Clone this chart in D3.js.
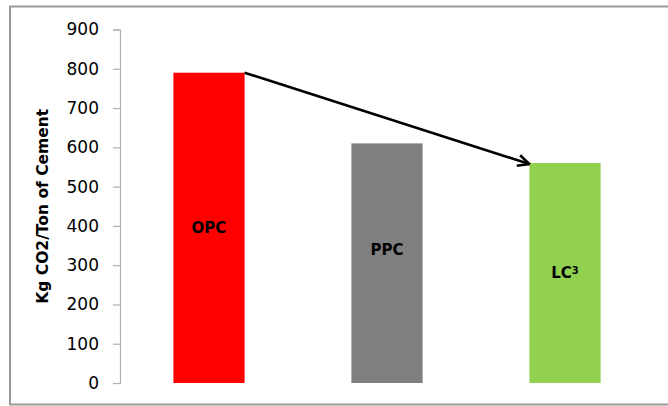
<!DOCTYPE html>
<html>
<head>
<meta charset="utf-8">
<script src="https://cdn.jsdelivr.net/npm/d3@7"></script>
<style>
  body { margin: 0; background: #fff; }
  svg { display: block; }
</style>
</head>
<body>
<div id="chart"></div>
<script>
const width = 668;
const height = 406;

// data
const cements = ['OPC', 'PPC', 'LC3'];
const co2 = [790, 610, 560];
const barColors = ['#ff0000', '#7f7f7f', '#92d050'];
const yTicks = [0, 100, 200, 300, 400, 500, 600, 700, 800, 900];

const plot = {left: 120, right: 654, top: 29.5, bottom: 383};

let svg = d3.select('#chart')
    .append('svg')
    .attr('width', width)
    .attr('height', height);

// outer frame of the chart
svg.append('rect')
    .attr('x', 10)
    .attr('y', 6.5)
    .attr('width', width + 20)
    .attr('height', 398)
    .attr('fill', 'none')
    .attr('stroke', '#9a9a9a')
    .attr('stroke-width', 2);

let x = d3.scaleBand()
    .domain(cements)
    .range([plot.left, plot.right])
    .paddingInner(0.6)
    .paddingOuter(0.3);

let y = d3.scaleLinear()
    .domain([0, 900])
    .range([plot.bottom, plot.top]);

let yAxis = d3.axisLeft(y)
    .tickValues(yTicks)
    .tickSize(7)
    .tickPadding(14);

let gy = svg.append('g')
    .attr('transform', `translate(${plot.left},0)`)
    .call(yAxis);
gy.select('.domain').attr('stroke', '#b0b0b0').attr('stroke-width', 1.2);
gy.selectAll('.tick line').attr('stroke', '#b0b0b0').attr('stroke-width', 1.2);
gy.selectAll('.tick text')
    .attr('fill', '#000')
    .style('font-family', 'DejaVu Sans')
    .style('font-size', '17px');

svg.append('text')
    .attr('transform', `translate(48,${(plot.top + plot.bottom) / 2}) rotate(-90)`)
    .attr('text-anchor', 'middle')
    .style('font-family', 'DejaVu Sans')
    .style('font-weight', 'bold')
    .style('font-size', '15.5px')
    .text('Kg CO2/Ton of Cement');

let data = cements.map((c, i) => ({name: c, value: co2[i], color: barColors[i]}));

svg.selectAll('rect.bar')
    .data(data)
    .enter()
    .append('rect')
    .attr('class', 'bar')
    .attr('x', d => x(d.name))
    .attr('y', d => y(d.value))
    .attr('width', x.bandwidth())
    .attr('height', d => y(0) - y(d.value))
    .attr('fill', d => d.color);

// bar labels (PPC label sits a little higher than centre in the original)
const labelNudge = [0, -14, 0];
let labs = svg.selectAll('text.lab')
    .data(data)
    .enter()
    .append('text')
    .attr('class', 'lab')
    .attr('x', d => x(d.name) + x.bandwidth() / 2)
    .attr('y', (d, i) => y(d.value / 2) + labelNudge[i])
    .attr('dy', '0.36em')
    .attr('text-anchor', 'middle')
    .style('font-family', 'DejaVu Sans')
    .style('font-weight', 'bold')
    .style('font-size', '15px');

labs.each(function(d) {
    let t = d3.select(this);
    if (d.name === 'LC3') {
        t.append('tspan').text('LC');
        t.append('tspan').attr('dy', '-0.45em').style('font-size', '10px').text('3');
    } else {
        t.text(d.name);
    }
});

// arrow from OPC top to LC3 top
svg.append('defs').append('marker')
    .attr('id', 'head')
    .attr('viewBox', '0 0 14 14')
    .attr('refX', 13)
    .attr('refY', 7)
    .attr('markerWidth', 14)
    .attr('markerHeight', 14)
    .attr('markerUnits', 'userSpaceOnUse')
    .attr('orient', 'auto')
    .append('path')
    .attr('d', 'M1.5,1.5 L13,7 L1.5,12.5')
    .attr('fill', 'none')
    .attr('stroke', '#000')
    .attr('stroke-width', 2.6);

svg.append('line')
    .attr('x1', x('OPC') + x.bandwidth())
    .attr('y1', y(co2[0]))
    .attr('x2', x('LC3'))
    .attr('y2', y(co2[2]) + 1)
    .attr('stroke', '#000')
    .attr('stroke-width', 2.6)
    .attr('marker-end', 'url(#head)');
</script>
</body>
</html>
